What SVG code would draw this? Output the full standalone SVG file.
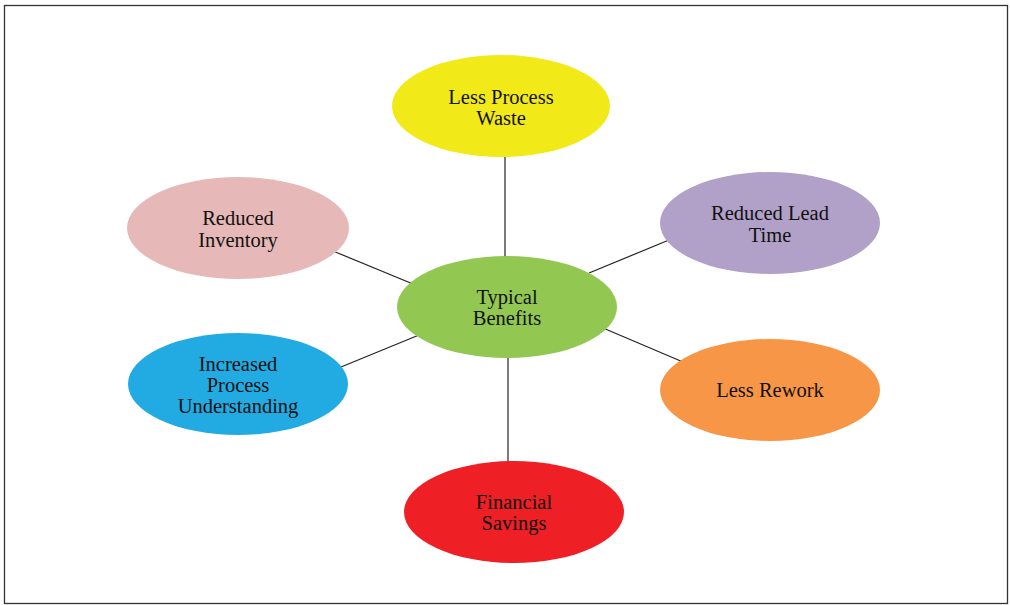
<svg xmlns="http://www.w3.org/2000/svg" width="1010" height="605" viewBox="0 0 1010 605">
<style>
.frame{fill:#fff;stroke:#333;stroke-width:1.3}
.conn line{stroke:#222;stroke-width:1.2}
text{font-family:"Liberation Serif","Times New Roman",serif;font-size:20.5px;fill:#111;text-anchor:middle}
</style>
<rect class="frame" x="4.5" y="5.5" width="1003" height="598"/>
<g id="connectors" class="conn">
<line x1="505" y1="157" x2="505" y2="257"/>
<line x1="589" y1="273" x2="669" y2="240"/>
<line x1="603" y1="328" x2="683" y2="362"/>
<line x1="508" y1="357" x2="508" y2="462"/>
<line x1="419" y1="335" x2="341" y2="367"/>
<line x1="413" y1="284" x2="333" y2="251"/>
</g>
<g id="waste"><ellipse cx="501" cy="106" rx="109" ry="51" fill="#f2e918"/><text x="501" y="104">Less Process</text><text x="501" y="125">Waste</text></g>
<g id="lead"><ellipse cx="770" cy="223" rx="110" ry="51" fill="#b1a0c7"/><text x="770" y="220">Reduced Lead</text><text x="770" y="242">Time</text></g>
<g id="rework"><ellipse cx="770" cy="390" rx="110" ry="51" fill="#f69646"/><text x="770" y="397">Less Rework</text></g>
<g id="savings"><ellipse cx="514" cy="512" rx="110" ry="51" fill="#ee1f25"/><text x="514" y="509">Financial</text><text x="514" y="530">Savings</text></g>
<g id="understanding"><ellipse cx="238" cy="384" rx="110" ry="51" fill="#22abe2"/><text x="238" y="371">Increased</text><text x="238" y="392">Process</text><text x="238" y="413">Understanding</text></g>
<g id="inventory"><ellipse cx="238" cy="228" rx="111" ry="51" fill="#e6b8b7"/><text x="238" y="225">Reduced</text><text x="238" y="247">Inventory</text></g>
<g id="center"><ellipse cx="507" cy="307" rx="110" ry="51" fill="#92c851"/><text x="507" y="304">Typical</text><text x="507" y="325">Benefits</text></g>
</svg>
